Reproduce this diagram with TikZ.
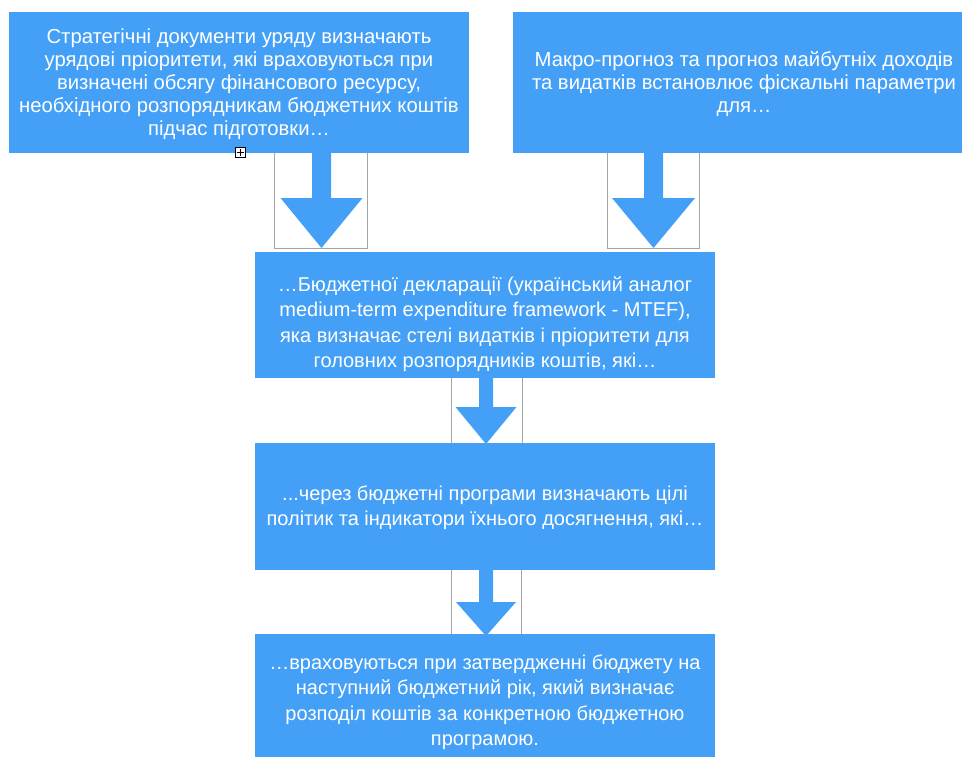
\documentclass[tikz,border=0pt]{standalone}
\usepackage{fontspec}
\setmainfont{Liberation Sans}
\usetikzlibrary{backgrounds}
\definecolor{boxblue}{RGB}{67,160,246}
\definecolor{aborder}{RGB}{165,165,165}
\newcommand\blockarr[6]{% #1 x centre, #2 top, #3 tip, #4 shaft half, #5 head half, #6 head start
  \fill[boxblue] (#1-#4,#2) -- (#1+#4,#2) -- (#1+#4,#6) -- (#1+#5,#6) -- (#1,#3)
    -- (#1-#5,#6) -- (#1-#4,#6) -- cycle;}
\begin{document}
\begin{tikzpicture}[x=1pt,y=-1pt,
  box/.style={rectangle, fill=boxblue, draw=none, inner sep=0pt},
  txttop/.style={text=white, align=center, inner sep=0pt, font=\fontsize{20.3}{23}\selectfont},
  txtbot/.style={text=white, align=center, inner sep=0pt, font=\fontsize{20}{25.5}\selectfont},
  abox/.style={rectangle, fill=white, draw=aborder, line width=0.8pt, inner sep=0pt}]
\useasboundingbox (0,0) rectangle (962,756);

% white frames behind the block arrows
\node[abox, minimum width=93pt, minimum height=96pt] (a1) at (320.5,200) {};
\node[abox, minimum width=92pt, minimum height=96pt] (a2) at (653,200) {};
\node[abox, minimum width=71pt, minimum height=67pt] (a3) at (486.5,410.5) {};
\node[abox, minimum width=70pt, minimum height=68pt] (a4) at (486,602) {};
\blockarr{321.5}{150}{248}{9.5}{41}{198}
\blockarr{653.5}{150}{248}{9.5}{41.5}{198}
\blockarr{486}{375}{444}{7}{30.5}{407}
\blockarr{486}{567}{636}{7}{30}{602}

% blue boxes
\node[box, minimum width=460pt, minimum height=141pt] (b1) at (239,82.5) {};
\node[box, minimum width=462pt, minimum height=141pt] (b2) at (744,82.5) {};
\node[box, minimum width=460pt, minimum height=126pt] (b3) at (485,315) {};
\node[box, minimum width=460pt, minimum height=127pt] (b4) at (485,506.5) {};
\node[box, minimum width=460pt, minimum height=126pt] (b5) at (485,697) {};

\node[txttop] (t1) at (239,84) {Стратегічні документи уряду визначають\\урядові пріоритети, які враховуються при\\визначені обсягу фінансового ресурсу,\\необхідного розпорядникам бюджетних коштів\\підчас підготовки…};
\node[txttop] (t2) at (744,84) {Макро-прогноз та прогноз майбутніх доходів\\та видатків встановлює фіскальні параметри\\для…};
\node[txtbot] (t3) at (485,324) {…Бюджетної декларації (український аналог\\medium-term expenditure framework - MTEF),\\яка визначає стелі видатків і пріоритети для\\головних розпорядників коштів, які…};
\node[txtbot] (t4) at (485,507.5) {...через бюджетні програми визначають цілі\\політик та індикатори їхнього досягнення, які…};
\node[txtbot] (t5) at (485,702) {…враховуються при затвердженні бюджету на\\наступний бюджетний рік, який визначає\\розподіл коштів за конкретною бюджетною\\програмою.};

% small expand icon
\node[rectangle, draw=black, fill=white, line width=0.7pt, minimum size=10pt, inner sep=0pt] (ic) at (240,152.5) {};
\draw[line width=0.7pt] (ic.center) ++(-3.5,0) -- ++(7,0);
\draw[line width=0.7pt] (ic.center) ++(0,-3.5) -- ++(0,7);
\end{tikzpicture}
\end{document}
